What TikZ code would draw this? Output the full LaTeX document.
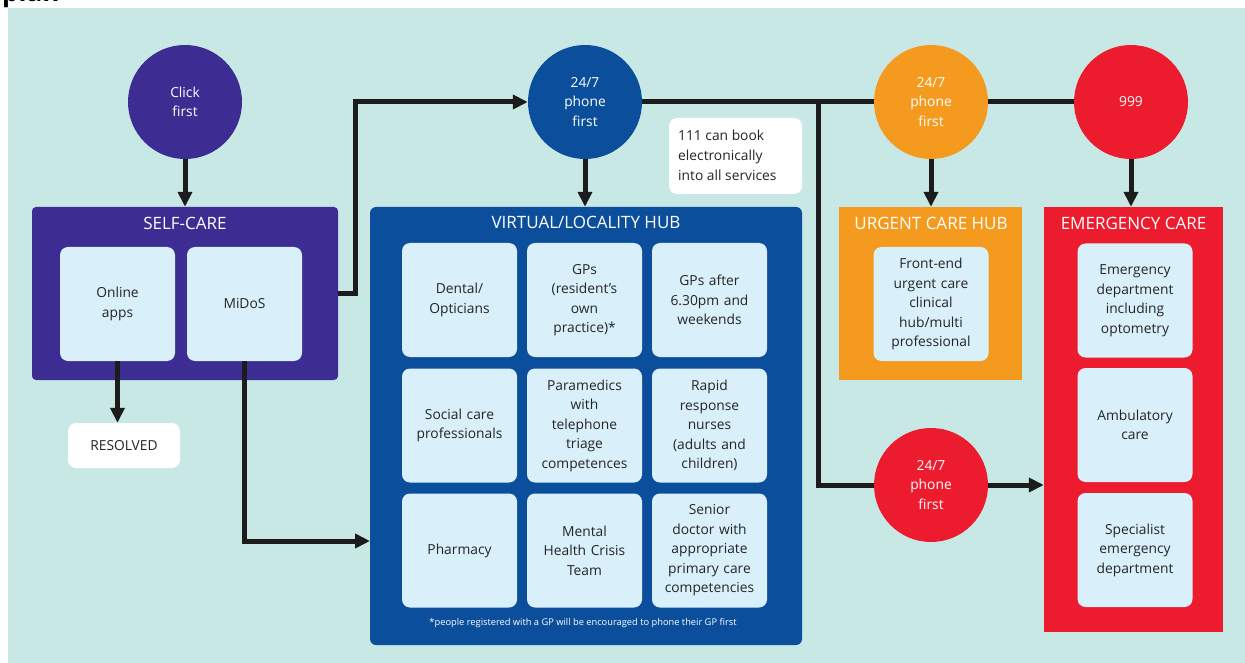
\documentclass[tikz,border=0pt]{standalone}
\usepackage{fontspec}
\setmainfont{Open Sans}
\usetikzlibrary{arrows.meta}
\definecolor{bgc}{HTML}{C8E8E6}
\definecolor{purp}{HTML}{3D2C91}
\definecolor{blu}{HTML}{0B4F9C}
\definecolor{orng}{HTML}{F49B1F}
\definecolor{redc}{HTML}{EC1C2E}
\definecolor{innc}{HTML}{D9EFFA}
\definecolor{txtc}{HTML}{252525}
\definecolor{linec}{HTML}{1C1C1C}
\newcommand{\fsA}{\fontsize{13.8}{19.5}\selectfont}
\newcommand{\fsT}{\fontsize{17}{19}\selectfont}
\tikzset{
  circ/.style={circle, minimum size=114pt, inner sep=0pt, text=white, align=center, font=\fsA},
  titletext/.style={text=white, font=\fsT, inner sep=0pt},
  inbox/.style={fill=innc, rounded corners=8pt, minimum width=115pt, minimum height=114pt, text width=108pt, inner sep=0pt, align=center, font=\fsA, text=txtc},
  conn/.style={draw=linec, line width=5pt},
  arr/.style={conn, -{Triangle[length=15pt,width=14pt]}},
}
\begin{document}
\begin{tikzpicture}[x=1pt,y=-1pt]
\useasboundingbox (0,0) rectangle (1245,663);
\begin{scope}
\clip (0,0) rectangle (1245,663);
\node[anchor=base west, inner sep=0pt, font=\fontsize{26}{26}\selectfont\bfseries] (plan) at (2,2) {plan};
\end{scope}
\fill[bgc] (8,8) rectangle (1245,663);

% circles
\node[circ, fill=purp] (click) at (185,102) {Click\\first};
\node[circ, fill=blu] (cblue) at (585,102) {24/7\\phone\\first};
\node[circ, fill=orng] (corng) at (931,102) {24/7\\phone\\first};
\node[circ, fill=redc] (c999) at (1131,102) {999};
\node[circ, fill=redc] (cred) at (931,485) {24/7\\phone\\first};

% SELF-CARE
\node[fill=purp, rounded corners=4pt, minimum width=306pt, minimum height=173pt, inner sep=0pt] (sc) at (185,293.5) {};
\node[titletext] (sct) at (185,223) {SELF-CARE};
\node[inbox] (online) at (117.5,304) {Online\\apps};
\node[inbox] (midos) at (244.5,304) {MiDoS};
\node[fill=white, rounded corners=8pt, minimum width=112pt, minimum height=45pt, inner sep=0pt, text=txtc, font=\fsA] (res) at (124,445.5) {RESOLVED};

% VIRTUAL/LOCALITY HUB
\node[fill=blu, rounded corners=6pt, minimum width=432pt, minimum height=438pt, inner sep=0pt] (vlh) at (586,426) {};
\node[titletext] (vlht) at (586,222) {VIRTUAL/LOCALITY HUB};
\node[inbox] (b11) at (459.5,300) {Dental/\\Opticians};
\node[inbox] (b12) at (584.5,300) {GPs\\(resident’s\\own\\practice)*};
\node[inbox] (b13) at (709.5,300) {GPs after\\6.30pm and\\weekends};
\node[inbox] (b21) at (459.5,425.5) {Social care\\professionals};
\node[inbox] (b22) at (584.5,425.5) {Paramedics\\with\\telephone\\triage\\competences};
\node[inbox] (b23) at (709.5,425.5) {Rapid\\response\\nurses\\(adults and\\children)};
\node[inbox] (b31) at (459.5,550.5) {Pharmacy};
\node[inbox] (b32) at (584.5,550.5) {Mental\\Health Crisis\\Team};
\node[inbox] (b33) at (709.5,550.5) {Senior\\doctor with\\appropriate\\primary care\\competencies};
\node[text=white, font=\fontsize{9.3}{11}\selectfont, inner sep=0pt] (foot) at (583,623) {*people registered with a GP will be encouraged to phone their GP first};

% 111 note
\node[fill=white, rounded corners=8pt, minimum width=133pt, minimum height=76pt, inner sep=0pt] (note) at (735.5,156) {};
\node[anchor=west, text=txtc, align=left, font=\fontsize{13.8}{20}\selectfont, inner sep=0pt] (notet) at (678,155) {111 can book\\electronically\\into all services};

% URGENT CARE HUB
\node[fill=orng, minimum width=183pt, minimum height=173pt, inner sep=0pt] (uch) at (930.5,293.5) {};
\node[titletext] (ucht) at (931,223) {URGENT CARE HUB};
\node[inbox] (fe) at (931,304) {Front-end\\urgent care\\clinical\\hub/multi\\professional};

% EMERGENCY CARE
\node[fill=redc, minimum width=179pt, minimum height=425pt, inner sep=0pt] (ec) at (1133.5,419.5) {};
\node[titletext] (ect) at (1133.5,223) {EMERGENCY CARE};
\node[inbox] (e1) at (1135,300.5) {Emergency\\department\\including\\optometry};
\node[inbox] (e2) at (1135,425) {Ambulatory\\care};
\node[inbox] (e3) at (1135,550) {Specialist\\emergency\\department};

% connectors
\coordinate (jn) at (818,102);
\coordinate (vin) at (370,541);
\draw[arr] (click.south) -- (sc.north);
\draw[arr] (sc.east) -- ++(17,0) |- (cblue.west);
\draw[arr] (cblue.south) -- (vlh.north -| cblue.south);
\draw[conn] (cblue.east) -- (corng.west);
\draw[conn] (corng.east) -- (c999.west);
\draw[conn] (jn) |- (cred.west);
\draw[arr] (cred.east) -- (ec.west |- cred.east);
\draw[arr] (corng.south) -- (uch.north -| corng.south);
\draw[arr] (c999.south) -- (ec.north -| c999.south);
\draw[arr] (online.south) -- (res.north -| online.south);
\draw[arr] (midos.south) |- (vin);
\end{tikzpicture}
\end{document}
